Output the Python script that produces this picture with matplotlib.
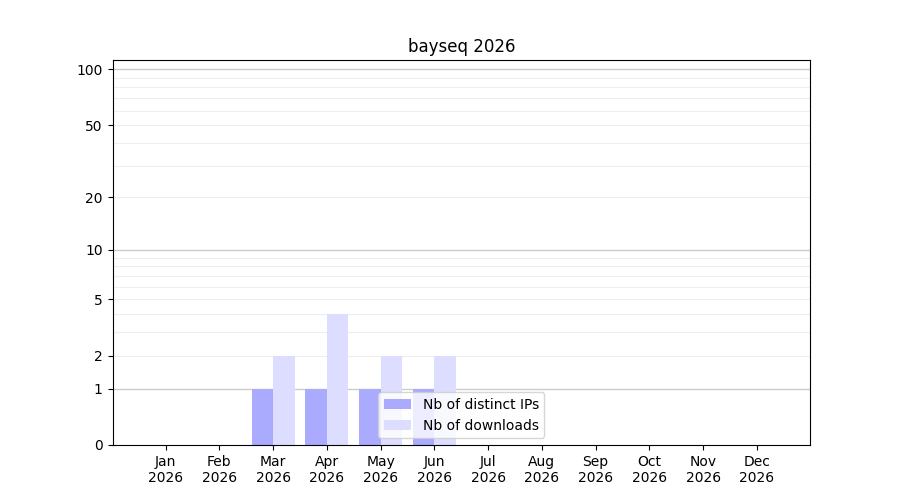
import numpy as np
import matplotlib
matplotlib.use("Agg")
import matplotlib.pyplot as plt

months = ["Jan", "Feb", "Mar", "Apr", "May", "Jun", "Jul", "Aug", "Sep", "Oct", "Nov", "Dec"]
year = "2026"
distinct_ips = [0, 0, 1, 1, 1, 1, 0, 0, 0, 0, 0, 0]
downloads = [0, 0, 2, 4, 2, 2, 0, 0, 0, 0, 0, 0]

y_ticks = [0, 1, 2, 5, 10, 20, 50, 100]
major_grid = [1, 10, 100]
minor_grid = [2, 3, 4, 5, 6, 7, 8, 9, 20, 30, 40, 50, 60, 70, 80, 90]


def fwd(y):
    return np.log10(1 + np.clip(y, 0, None))


def inv(y):
    return 10 ** y - 1


fig, ax = plt.subplots(figsize=(9, 5), dpi=100)
ax.set_yscale("function", functions=(fwd, inv))

x = np.arange(len(months))
w = 0.4
ax.bar(x - w / 2, distinct_ips, w, color="#aaaaff", label="Nb of distinct IPs", zorder=2)
ax.bar(x + w / 2, downloads, w, color="#ddddff", label="Nb of downloads", zorder=2)

for v in minor_grid:
    ax.axhline(v, color="#eeeeee", lw=0.8, zorder=0)
for v in major_grid:
    ax.axhline(v, color="#cccccc", lw=1.0, zorder=1)

ax.set_ylim(0, inv(2.055))
ax.set_yticks(y_ticks)
ax.set_yticklabels([str(t) for t in y_ticks])
ax.yaxis.set_minor_locator(matplotlib.ticker.NullLocator())
ax.set_xticks(x)
ax.set_xticklabels([m + "\n" + year for m in months])
ax.set_title("bayseq 2026")
ax.legend(loc="lower center")

fig.savefig("out.png")
